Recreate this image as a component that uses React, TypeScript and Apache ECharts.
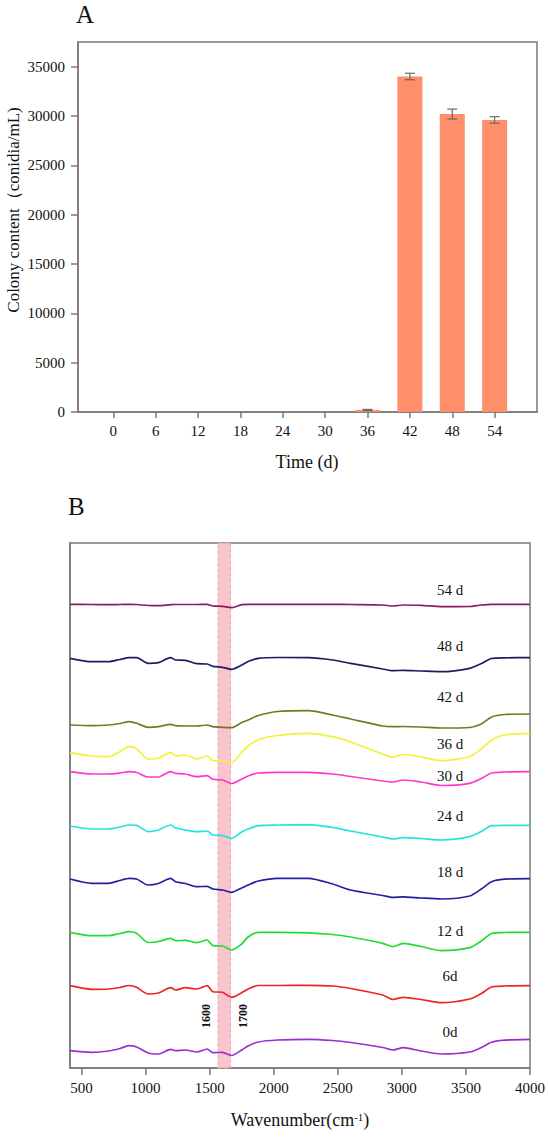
import React, { useEffect, useRef } from "react";
import * as echarts from "echarts";

// ---------- Panel A data ----------
const days = [0, 6, 12, 18, 24, 30, 36, 42, 48, 54];
const colony = [0, 0, 0, 0, 0, 0, 200, 34000, 30200, 29600];
const colonyErr = [0, 0, 0, 0, 0, 0, 60, 330, 500, 330];
const yTicksA = [0, 5000, 10000, 15000, 20000, 25000, 30000, 35000];

// ---------- Panel B data (offset-stacked FTIR spectra, a.u.) ----------
const wavenumber = [410, 580, 710, 800, 870, 930, 1020, 1100, 1195, 1235, 1310, 1400, 1480, 1525, 1600, 1670, 1750, 1800, 1880, 2030, 2270, 2460, 2600, 2850, 2930, 3010, 3150, 3310, 3530, 3620, 3700, 3800, 4000];
const xTicksB = [500, 1000, 1500, 2000, 2500, 3000, 3500, 4000];

const s0d = [17.3, 15.7, 17, 19.5, 22.3, 21, 15, 14, 18.7, 17.3, 18, 16, 19, 15.3, 15.7, 12.5, 18, 22, 26, 28, 28.7, 27.5, 25.5, 20.5, 18, 20.3, 17, 14, 16, 20.5, 25.7, 27.8, 28.7];
const s6d = [82.3, 78.7, 79, 80.5, 82.5, 80.7, 74, 75, 80.3, 78, 80.3, 79, 82.3, 76.3, 75.7, 70.7, 75.3, 79, 82.5, 82.5, 82.7, 82, 79.5, 73, 68.5, 70.7, 68.5, 65.3, 69, 74.5, 81, 82, 82.3];
const s12d = [135.7, 132.3, 132.3, 134.5, 136.3, 134.7, 125.5, 126.5, 129.7, 127.3, 127.7, 125.3, 128, 122.3, 122, 118, 124, 131, 135.7, 135.7, 135.2, 133.5, 131, 124.7, 121.3, 124.7, 121.5, 117.3, 120.3, 127, 134.5, 135.5, 135.7];
const s18d = [189, 184.7, 184.7, 187.5, 189.7, 189, 183, 184.5, 189.7, 186.3, 184.5, 181.3, 181.7, 179, 178, 175.7, 180, 183, 187, 189.7, 189.7, 184, 178, 172.5, 170.7, 171.2, 170, 169, 172, 179, 186.3, 188.8, 189.3];
const s24d = [242, 239, 239, 241, 243, 242.7, 236.3, 238, 243, 240, 238, 236.3, 237, 233, 232.3, 229.7, 236, 239, 242.3, 243, 243.3, 240.5, 237, 231, 229, 230.3, 229.5, 228, 231.3, 236.5, 242.3, 242.7, 242.7];
const s30d = [296.3, 294, 294, 295, 296.3, 295.5, 291, 291, 296.3, 294.7, 294, 291.3, 292.3, 288.7, 288, 284.5, 289, 292, 295, 295.7, 295.7, 294, 291.5, 287, 286, 288, 286, 282.5, 284.7, 289.5, 295, 296, 296.3];
const s36d = [315.3, 312, 311.3, 316.3, 321.3, 319, 309, 309.7, 315.7, 312, 313, 309, 312, 307.5, 307, 305.3, 316, 322, 328.3, 332.5, 334.7, 331.3, 326, 314, 310.7, 313.5, 311, 307.3, 311.5, 319, 328, 333, 334.7];
const s42d = [343, 342.3, 343, 344.5, 346.3, 344.7, 340.7, 341.3, 343.7, 342.3, 342, 342, 343, 341.3, 340.7, 340.3, 345.5, 348, 352.5, 356.5, 357.3, 353, 349, 342, 341.3, 341.5, 341, 340, 340.5, 344, 351, 353.5, 354];
const s48d = [409.7, 406.3, 406.3, 408.5, 410.3, 410.3, 404.7, 405.3, 410.3, 408, 407.7, 404.3, 404, 401.7, 400.7, 398.7, 403, 406.5, 409.7, 410.5, 410.3, 408, 404.7, 399, 397.3, 397.7, 397, 396.3, 399.7, 404.5, 409.5, 410.2, 410.3];
const s54d = [463.7, 463.5, 463.3, 463.5, 463.7, 463.5, 462.5, 462.3, 463.3, 463.5, 463.5, 463.5, 463.7, 462, 461.7, 460.3, 463.3, 463.7, 463.7, 463.7, 463.7, 463.7, 463.5, 463, 462, 463, 462.7, 461.3, 461.5, 463, 463.7, 463.7, 463.7];

const spectraNames = ["0d", "6d", "12 d", "18 d", "24 d", "30 d", "36 d", "42 d", "48 d", "54 d"];
const spectraValues = [s0d, s6d, s12d, s18d, s24d, s30d, s36d, s42d, s48d, s54d];
const spectraColors = ["#9a30cc", "#ee2424", "#22dd30", "#2222a0", "#22e2e2", "#ff38c8", "#f2f238", "#6e7c24", "#1c1c60", "#8c1c62"];
const labelTop = [1032, 976, 931, 872, 816, 776, 744, 697, 646, 590];
const band = [1565, 1663];

const FONT = "'Liberation Serif', 'DejaVu Serif', serif";
const plain = (v: number) => String(v);

export default function App() {
  const ref = useRef<HTMLDivElement>(null);
  useEffect(() => {
    if (!ref.current) return;
    const chart = echarts.init(ref.current, undefined, { renderer: "svg" });

    const gray = "#7a7a7a";
    const lineSeries = spectraValues.map((vals, i) => ({
      type: "line",
      name: spectraNames[i],
      xAxisIndex: 1,
      yAxisIndex: 1,
      data: wavenumber.map((w, j) => [w, vals[j]]),
      showSymbol: false,
      smooth: 0.25,
      z: 3,
      lineStyle: { color: spectraColors[i], width: 1.7 },
      itemStyle: { color: spectraColors[i] },
    }));

    const option: any = {
      animation: false,
      textStyle: { fontFamily: FONT },
      grid: [
        { left: 78, right: 13, top: 42, height: 370, show: true, borderColor: gray, borderWidth: 1.5, backgroundColor: "transparent" },
        { left: 70, right: 20, top: 543, height: 525, show: true, borderColor: gray, borderWidth: 1.5, backgroundColor: "transparent" },
      ],
      xAxis: [
        {
          type: "value", gridIndex: 0, min: -5, max: 60,
          axisLine: { show: true, onZero: false, lineStyle: { color: gray, width: 1.5 } },
          axisTick: { show: true, customValues: days, length: 6, lineStyle: { color: gray, width: 1.5 } },
          axisLabel: { customValues: days, formatter: plain, color: "#111", fontSize: 15, fontFamily: FONT, margin: 11 },
          splitLine: { show: false },
        },
        {
          type: "value", gridIndex: 1, min: 410, max: 4000,
          axisLine: { show: true, onZero: false, lineStyle: { color: gray, width: 1.5 } },
          axisTick: { show: true, customValues: xTicksB, length: 7, lineStyle: { color: gray, width: 1.5 } },
          axisLabel: { customValues: xTicksB, formatter: plain, color: "#111", fontSize: 15, fontFamily: FONT, margin: 12 },
          splitLine: { show: false },
        },
      ],
      yAxis: [
        {
          type: "value", gridIndex: 0, min: 0, max: 37500,
          axisLine: { show: true, onZero: false, lineStyle: { color: gray, width: 1.5 } },
          axisTick: { show: true, customValues: yTicksA, length: 7, lineStyle: { color: gray, width: 1.5 } },
          axisLabel: { customValues: yTicksA, formatter: plain, color: "#111", fontSize: 15, fontFamily: FONT, margin: 13 },
          splitLine: { show: false },
        },
        {
          type: "value", gridIndex: 1, min: 0, max: 525,
          axisLine: { show: true, onZero: false, lineStyle: { color: gray, width: 1.5 } },
          axisTick: { show: false },
          axisLabel: { show: false },
          splitLine: { show: false },
        },
      ],
      series: [
        {
          type: "bar",
          xAxisIndex: 0, yAxisIndex: 0,
          data: days.map((d, i) => [d, colony[i]]),
          barWidth: 25,
          itemStyle: { color: "#ff8e6b" },
          z: 2,
        },
        {
          type: "custom",
          xAxisIndex: 0, yAxisIndex: 0,
          data: days.map((d, i) => [d, colony[i], colonyErr[i]]),
          z: 4,
          renderItem: (params: any, api: any) => {
            const x = api.value(0);
            const y = api.value(1);
            const e = api.value(2);
            if (!e) return { type: "group", children: [] };
            const top = api.coord([x, y + e]);
            const bot = api.coord([x, y - e]);
            const hw = 5;
            const st = { stroke: "#6a6a6a", lineWidth: 1.2 };
            return {
              type: "group",
              children: [
                { type: "line", shape: { x1: top[0], y1: top[1], x2: bot[0], y2: bot[1] }, style: st },
                { type: "line", shape: { x1: top[0] - hw, y1: top[1], x2: top[0] + hw, y2: top[1] }, style: st },
                { type: "line", shape: { x1: bot[0] - hw, y1: bot[1], x2: bot[0] + hw, y2: bot[1] }, style: st },
              ],
            };
          },
        },
        {
          type: "line",
          xAxisIndex: 1, yAxisIndex: 1,
          data: [],
          z: 1,
          markArea: {
            silent: true,
            itemStyle: { color: "rgba(247,186,198,0.85)", borderColor: "#f3a6b6", borderWidth: 1, borderType: "dashed" },
            data: [[{ xAxis: band[0] }, { xAxis: band[1] }]],
          },
        },
        ...lineSeries,
      ],
      graphic: [
        { type: "text", x: 76, y: 14, style: { text: "A", fontSize: 25, fontFamily: FONT, fill: "#111", textVerticalAlign: "middle" } },
        { type: "text", x: 68, y: 506, style: { text: "B", fontSize: 25, fontFamily: FONT, fill: "#111", textVerticalAlign: "middle" } },
        {
          type: "text", x: 13, y: 210, rotation: Math.PI / 2,
          style: { text: "Colony content（conidia/mL)", fontSize: 17, fontFamily: FONT, fill: "#111", textAlign: "center", textVerticalAlign: "middle" },
        },
        { type: "text", x: 307, y: 462, style: { text: "Time (d)", fontSize: 18, fontFamily: FONT, fill: "#111", textAlign: "center", textVerticalAlign: "middle" } },
        {
          type: "text", x: 300, y: 1120,
          style: {
            text: "Wavenumber(cm{sup|-1})",
            fontSize: 18, fontFamily: FONT, fill: "#111", textAlign: "center", textVerticalAlign: "middle",
            rich: { sup: { fontSize: 11, fontFamily: FONT, verticalAlign: "top", lineHeight: 18, padding: [0, 0, 6, 0] } },
          },
        },
        {
          type: "text", x: 206, y: 1016, rotation: Math.PI / 2,
          style: { text: "1600", fontSize: 12, fontWeight: "bold", fontFamily: FONT, fill: "#111", textAlign: "center", textVerticalAlign: "middle" },
        },
        {
          type: "text", x: 243, y: 1016, rotation: Math.PI / 2,
          style: { text: "1700", fontSize: 12, fontWeight: "bold", fontFamily: FONT, fill: "#111", textAlign: "center", textVerticalAlign: "middle" },
        },
        ...spectraNames.map((n, i) => ({
          type: "text", x: 450, y: labelTop[i],
          style: { text: n, fontSize: 15, fontFamily: FONT, fill: "#111", textAlign: "center", textVerticalAlign: "middle" },
        })),
      ],
    };
    chart.setOption(option);
    return () => chart.dispose();
  }, []);

  return <div ref={ref} style={{ position: "absolute", left: 0, top: 0, width: 550, height: 1137, background: "#fff" }} />;
}
